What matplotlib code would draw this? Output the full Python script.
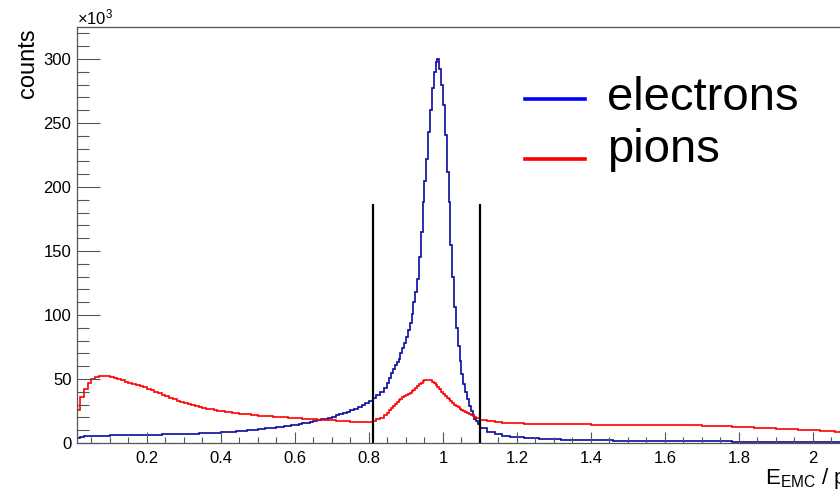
import numpy as np
import matplotlib
matplotlib.use("Agg")
import matplotlib.pyplot as plt
from matplotlib.ticker import MultipleLocator
from matplotlib.lines import Line2D

plt.rcParams['font.family'] = ['Liberation Sans', 'DejaVu Sans']
plt.rcParams['mathtext.fontset'] = 'custom'
plt.rcParams['mathtext.rm'] = 'Liberation Sans'
plt.rcParams['mathtext.it'] = 'Liberation Sans'

# ---- bin edges (three segments: 0.01 wide, 0.005 wide around the peak, 0.02 wide) ----
edges_lo = np.round(0.01 + 0.01 * np.arange(85), 4)        # 0.01 .. 0.85
edges_mid = np.round(0.85 + 0.005 * np.arange(1, 51), 4)    # 0.855 .. 1.10
edges_hi = np.round(1.10 + 0.02 * np.arange(1, 50), 4)      # 1.12 .. 2.08
edges = np.concatenate([edges_lo, edges_mid, edges_hi])

# ---- electrons (counts / 10^3) ----
electrons_lo = [3.8, 4.8, 5.2, 5.4, 5.5, 5.6, 5.7, 5.8, 5.8, 5.9,
                6.0, 6.0, 6.1, 6.1, 6.2, 6.2, 6.3, 6.3, 6.4, 6.4,
                6.5, 6.5, 6.6, 6.7, 6.7, 6.8, 6.9, 6.9, 7.0, 7.1,
                7.2, 7.3, 7.4, 7.5, 7.6, 7.8, 7.9, 8.0, 8.2, 8.3,
                8.5, 8.7, 8.9, 9.1, 9.3, 9.6, 9.9, 10.2, 10.5, 10.8,
                11.1, 11.4, 11.7, 12.0, 12.4, 12.8, 13.2, 13.6, 14.0, 14.4,
                14.9, 15.4, 15.9, 16.5, 17.1, 17.7, 18.4, 19.1, 19.9, 20.7,
                21.6, 22.5, 23.5, 24.6, 25.7, 26.9, 28.2, 29.6, 31.1, 32.8,
                34.8, 37.2, 40.0, 43.0]
electrons_mid = [47, 51, 55, 58, 61, 63, 66, 70, 74, 78,
                 83, 88, 94, 101, 110, 118, 128, 145, 165, 188,
                 205, 222, 243, 260, 277, 290, 298, 300, 292, 280,
                 264, 241, 212, 188, 155, 130, 106, 90, 76, 64,
                 54, 46, 40, 34, 29, 25, 22, 19, 17, 15]
electrons_hi = [11.5, 8.5, 6.8, 5.6, 4.9, 4.4, 4.0, 3.6, 3.3, 3.1,
                2.9, 2.7, 2.5, 2.4, 2.2, 2.1, 2.0, 2.0, 1.9, 1.9,
                1.8, 1.8, 1.7, 1.7, 1.6, 1.6, 1.6, 1.5, 1.5, 1.5,
                1.4, 1.2, 1.2, 1.2, 1.1, 1.1, 1.1, 1.1, 1.1, 1.0,
                1.0, 1.0, 1.0, 1.0, 1.0, 1.0, 1.0, 1.0, 1.0]

# ---- pions (counts / 10^3) ----
pions_lo = [26, 36, 42, 47, 50, 51.5, 52.3, 52.5, 52.3, 51.7,
            51.0, 50.0, 49.0, 48.0, 47.0, 46.2, 45.4, 44.5, 43.6, 42.5,
            41.3, 40.0, 38.8, 37.6, 36.5, 35.4, 34.2, 33.2, 32.2, 31.3,
            30.5, 29.7, 29.0, 28.2, 27.5, 26.8, 26.2, 25.7, 25.2, 24.8,
            24.4, 24.0, 23.6, 23.2, 22.9, 22.6, 22.3, 22.0, 21.7, 21.4,
            21.2, 21.0, 20.8, 20.6, 20.4, 20.2, 20.0, 19.8, 19.6, 19.4,
            19.2, 19.0, 18.8, 18.6, 18.5, 18.3, 18.2, 18.0, 17.9, 17.7,
            17.5, 17.3, 17.1, 16.9, 16.7, 16.5, 16.3, 16.2, 16.2, 16.6,
            17.4, 18.4, 19.8, 21.8]
pions_mid = [23.8, 25.8, 27.6, 29.2, 30.6, 32.0, 33.3, 34.5, 35.6, 36.6,
             37.5, 38.4, 39.2, 40.3, 41.6, 43.0, 44.5, 46.0, 47.2, 48.2,
             49.0, 49.5, 49.6, 49.0, 48.0, 46.8, 45.4, 43.8, 42.0, 40.0,
             38.3, 36.8, 35.4, 34.0, 32.6, 31.2, 30.0, 28.9, 27.8, 26.8,
             25.9, 25.0, 24.2, 23.4, 22.6, 21.9, 21.2, 20.5, 19.9, 19.3]
pions_hi = [18.3, 17.3, 16.6, 16.0, 15.6, 15.3, 15.1, 14.9, 14.8, 14.7,
            14.6, 14.6, 14.5, 14.5, 14.5, 14.4, 14.4, 14.4, 14.4, 14.3,
            14.3, 14.3, 14.3, 14.2, 14.2, 14.2, 14.1, 14.0, 13.9, 13.8,
            13.6, 13.4, 13.2, 13.0, 12.8, 12.6, 12.4, 12.1, 11.8, 11.5,
            11.2, 11.0, 10.8, 10.5, 10.2, 9.9, 9.5, 9.1, 8.7]

electrons = np.array(electrons_lo + electrons_mid + electrons_hi)
pions = np.array(pions_lo + pions_mid + pions_hi)

cut_positions = [0.81, 1.10]
cut_height = 187

legend_labels = ["electrons", "pions"]

# ---- figure ----
W, H = 840, 493
fig = plt.figure(figsize=(W / 100, H / 100), dpi=100)
ax = fig.add_axes([77 / W, 1 - 443 / H, 1 - 77 / W, (443 - 27) / H])

axis_col = '#555555'
ax.stairs(electrons, edges, color='#0a0a9e', lw=1.2)
ax.stairs(pions, edges, color='#ff0000', lw=1.2)
ax.vlines(cut_positions, 0, cut_height, color='black', lw=1.6)

ax.set_xlim(0.011, 2.073)
ax.set_ylim(0, 325)

ax.xaxis.set_major_locator(MultipleLocator(0.2))
ax.xaxis.set_minor_locator(MultipleLocator(0.05))
ax.yaxis.set_major_locator(MultipleLocator(50))
ax.yaxis.set_minor_locator(MultipleLocator(10))

ax.set_xticks([0.2, 0.4, 0.6, 0.8, 1.0, 1.2, 1.4, 1.6, 1.8, 2.0])
ax.set_xticklabels(['0.2', '0.4', '0.6', '0.8', '1', '1.2', '1.4', '1.6', '1.8', '2'])

ax.tick_params(axis='y', which='major', direction='in', length=16.5, width=0.8,
               color=axis_col, labelsize=12, pad=4)
ax.tick_params(axis='y', which='minor', direction='in', length=8.6, width=0.8, color=axis_col)
ax.tick_params(axis='x', which='major', direction='in', length=8, width=0.8,
               color=axis_col, labelsize=12, pad=6)
ax.tick_params(axis='x', which='minor', direction='in', length=4.3, width=0.8, color=axis_col)

for s in ['left', 'bottom', 'top']:
    ax.spines[s].set_color(axis_col)
    ax.spines[s].set_linewidth(0.9)
ax.spines['right'].set_visible(False)

# axis titles
fig.text(28 / W, 1 - 28 / H, 'counts', rotation=90, ha='center', va='top', fontsize=17)
fig.text(765 / W, 1 - 484 / H, r'E$_{\mathregular{EMC}}$ / p', ha='left', va='baseline', fontsize=16)
fig.text(77 / W, 1 - 24 / H, r'$\mathregular{\times10^{3}}$', ha='left', va='baseline', fontsize=12)

# legend (drawn manually)
leg_colors = ['#0000ff', '#ff0000']
leg_y = [99, 159]
txt_base = [110, 162]
for lab, c, ly, tb in zip(legend_labels, leg_colors, leg_y, txt_base):
    fig.add_artist(Line2D([525 / W, 585 / W], [1 - ly / H, 1 - ly / H], color=c, lw=2.6))
    fig.text(607 / W, 1 - tb / H, lab, ha='left', va='baseline', fontsize=34)

fig.savefig('out.png', dpi=100)
